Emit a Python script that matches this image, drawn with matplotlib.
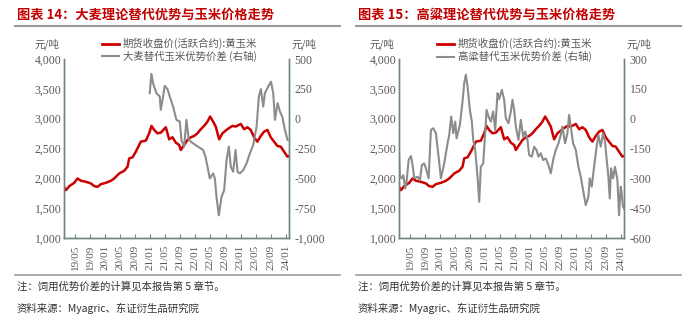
import matplotlib.pyplot as plt
from matplotlib.lines import Line2D
from matplotlib.ticker import FuncFormatter

plt.rcParams['font.family'] = ['Noto Sans CJK SC', 'DejaVu Sans']

# time axis: months counted from Jan 2019 (1.0 = 2019/02, 4.0 = 2019/05 ...)
x_ticks = [4, 8, 12, 16, 20, 24, 28, 32, 36, 40, 44, 48, 52, 56, 60]
x_labels = ['19/05', '19/09', '20/01', '20/05', '20/09', '21/01', '21/05', '21/09',
            '22/01', '22/05', '22/09', '23/01', '23/05', '23/09', '24/01']

# corn futures close (left axis, 元/吨)
corn_t = [1.0, 1.52, 2.40, 3.73, 4.62, 5.51, 6.84, 8.17, 9.05, 9.94, 10.83, 12.16,
          13.49, 14.37, 15.70, 17.03, 17.92, 18.36, 19.25, 20.13, 21.46, 22.79, 23.68,
          24.30, 25.01, 25.90, 26.78, 28.11, 29.00, 29.89, 30.77, 31.66, 32.10, 32.99,
          33.88, 34.76, 35.65, 36.54, 37.42, 38.31, 39.20, 39.90, 40.70, 41.41, 42.30,
          43.18, 44.51, 45.84, 46.73, 48.06, 48.95, 49.83, 50.72, 51.61, 52.49, 53.38,
          54.27, 55.16, 56.04, 56.93, 57.82, 58.70, 59.59, 60.48, 60.9]
corn_v = [1858, 1802, 1869, 1925, 1998, 1959, 1942, 1914, 1869, 1858, 1903, 1925,
          1959, 1998, 2082, 2127, 2195, 2335, 2352, 2447, 2615, 2632, 2755,
          2879, 2811, 2755, 2766, 2856, 2654, 2688, 2598, 2559, 2475, 2559,
          2643, 2688, 2710, 2755, 2823, 2879, 2951, 3036, 2951, 2867, 2654,
          2755, 2823, 2879, 2867, 2912, 2823, 2856, 2811, 2688, 2615, 2710,
          2783, 2811, 2688, 2615, 2542, 2531, 2447, 2363, 2374]

# barley substitution spread (right axis)
barley_t = [23.82, 24.27, 24.71, 25.60, 26.49, 26.76, 27.38, 27.82, 28.53, 29.16,
            30.04, 30.93, 31.82, 32.27, 32.98, 33.60, 34.22, 35.38, 36.71, 38.04,
            38.67, 39.38, 39.82, 40.71, 41.16, 41.60, 42.22, 42.93, 43.64, 44.27,
            44.89, 45.42, 46.04, 46.67, 47.20, 47.82, 48.71, 49.60, 50.49, 51.38,
            52.27, 52.89, 53.42, 54.04, 54.49, 55.38, 56.09, 56.71, 57.16, 57.87,
            58.49, 59.11, 59.82, 60.53]
barley_v = [214, 376, 298, 214, 186, 74, 186, 275, 248, 186,
            101, -10, -24, -179, -235, -10, -179, -207, -235, -263,
            -319, -431, -501, -459, -501, -656, -810, -656, -600, -347,
            -235, -403, -445, -263, -445, -459, -431, -375, -291, -221,
            -67, 186, 248, 101, 214, 270, 310, 214, -10, 130,
            60, 17, -95, -179]

# sorghum substitution spread (right axis)
sorghum_t = [1.0, 1.25, 1.70, 2.14, 2.67, 3.02, 3.56, 4.18, 4.62, 5.06, 5.95, 6.57,
             7.10, 7.72, 8.17, 8.88, 9.50, 10.12, 10.83, 11.54, 12.16, 13.04, 13.93,
             14.37, 14.90, 15.44, 15.97, 16.32, 17.21, 17.92, 18.36, 18.80, 19.25,
             19.87, 20.40, 20.76, 21.29, 21.91, 22.35, 22.79, 23.41, 23.95, 24.30,
             24.83, 25.45, 26.07, 26.61, 27.23, 27.67, 28.38, 29.00, 29.44, 30.15,
             30.77, 31.22, 31.66, 32.10, 32.81, 33.43, 34.05, 34.59, 35.21, 35.65,
             36.36, 36.98, 37.60, 38.13, 38.75, 39.37, 40.08, 40.79, 41.41, 42.03,
             42.74, 43.45, 44.07, 44.51, 45.22, 45.84, 46.29, 46.73, 47.35, 48.06,
             48.77, 49.39, 50.01, 50.72, 51.43, 51.78, 52.32, 52.94, 53.56, 54.09,
             54.71, 55.33, 55.86, 56.22, 56.75, 57.11, 57.46, 57.99, 58.52, 59.15,
             59.59, 60.03, 60.30, 60.65, 60.9]
sorghum_v = [-174, -292, -300, -284, -351, -317, -208, -188, -233, -300, -292, -309,
             -233, -225, -250, -300, -57, -48, -73, -191, -300, -225, -124,
             -82, 11, -73, -15, -99, -31, 86, 179, 221, 162,
             44, -15, -107, -157, -292, -418, -242, -225, -73, 44,
             11, -15, 36, -57, 128, 98, 145, 95, 2, -23,
             36, 95, 44, -40, -107, -6, -90, -65, -107, -183,
             -191, -141, -157, -191, -174, -208, -200, -233, -275, -208,
             -157, -124, -82, -40, -124, -73, 19, -40, -124, -157,
             -242, -292, -359, -435, -393, -300, -342, -242, -149, -82,
             -141, -73, -115, -191, -292, -401, -250, -300, -242, -309,
             -486, -342, -376, -443, -452]

RED = '#CC0000'
GREY = '#8C8C8C'
AXC = '#6E8585'
TXT = '#595959'
H = 333.0

fig = plt.figure(figsize=(7, 3.33), dpi=100)


def comma(v, pos):
    return '{:,.0f}'.format(v)


def panel(px, title, s_t, s_v, s_name, rlim, rticks, ox):
    ax = fig.add_axes([px / 700, 1 - 238 / H, 0.3214, 179 / H])
    ax.plot(corn_t, corn_v, color=RED, lw=1.8)
    ax.set_xlim(1.0, 60.9)
    ax.set_ylim(1000, 4000)
    ax.set_yticks(range(1000, 4001, 500))
    ax.yaxis.set_major_formatter(FuncFormatter(comma))
    ax2 = ax.twinx()
    ax2.plot(s_t, s_v, color=GREY, lw=1.5)
    ax2.set_ylim(*rlim)
    ax2.set_yticks(rticks)
    ax2.yaxis.set_major_formatter(FuncFormatter(comma))
    ax.set_xticks(x_ticks)
    ax.set_xticklabels(x_labels, rotation=90)
    for a in (ax, ax2):
        a.spines['top'].set_visible(False)
        for s in ('left', 'right', 'bottom'):
            a.spines[s].set_color(AXC)
            a.spines[s].set_linewidth(1.0)
        a.tick_params(axis='y', length=0, labelsize=8.5, labelcolor=TXT, pad=2)
        for lab in a.get_yticklabels():
            lab.set_family('Liberation Serif')
    ax2.tick_params(axis='y', pad=4)
    ax.tick_params(axis='x', direction='in', length=3, color=AXC, labelsize=8,
                   labelcolor=TXT, pad=5)
    for lab in ax.get_xticklabels():
        lab.set_family('Liberation Serif')

    fig.text(ox / 700, 1 - 15 / H, title, color='#C00000', fontsize=9.5,
             fontweight='bold', va='center')
    fig.add_artist(Line2D([ox / 700 - 0.003, (ox + 323) / 700], [1 - 26 / H] * 2,
                          color='#999999', lw=1.5))
    fig.add_artist(Line2D([ox / 700 - 0.003, (ox + 323) / 700], [1 - 275 / H] * 2,
                          color='#999999', lw=1.2))
    fig.text((px - 17) / 700, 1 - 44 / H, '元/吨', fontsize=7.5, color=TXT,
             ha='center', va='center')
    fig.text((px + 240) / 700, 1 - 44 / H, '元/吨', fontsize=7.5, color=TXT,
             ha='center', va='center')
    handles = [Line2D([], [], color=RED, lw=2), Line2D([], [], color=GREY, lw=1.5)]
    fig.legend(handles, ['期货收盘价(活跃合约):黄玉米', s_name],
               loc='upper left', bbox_to_anchor=((px + 33) / 700, 1 - 33 / H),
               frameon=False, fontsize=7.5, handlelength=1.6, handletextpad=0.4,
               labelspacing=0.15, borderpad=0, labelcolor=TXT)
    fig.text(ox / 700, 1 - 287 / H, '注：饲用优势价差的计算见本报告第 5 章节。',
             fontsize=7.5, color='#333333', va='center')
    fig.text(ox / 700, 1 - 308 / H, '资料来源：Myagric、东证衍生品研究院',
             fontsize=7.5, color='#333333', va='center')


panel(64, '图表 14：大麦理论替代优势与玉米价格走势', barley_t, barley_v,
      '大麦替代玉米优势价差 (右轴)', (-1000, 500), range(-1000, 501, 250), 17)
panel(399, '图表 15：高粱理论替代优势与玉米价格走势', sorghum_t, sorghum_v,
      '高粱替代玉米优势价差 (右轴)', (-600, 300), range(-600, 301, 150), 358)

fig.savefig('out.png', dpi=100)
